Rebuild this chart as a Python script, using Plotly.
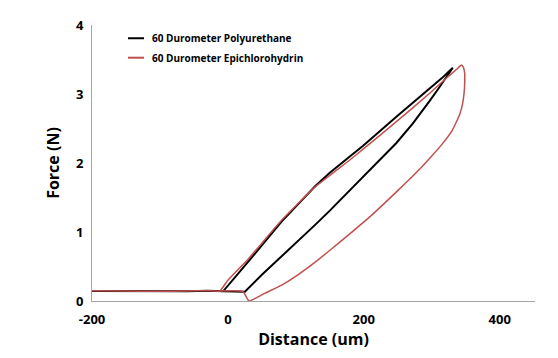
import plotly.graph_objects as go

# ---- data ----
series_names = ["60 Durometer Polyurethane", "60 Durometer Epichlorohydrin"]

pu_distance = [-200, -150, -100, -60, -30, -7,
               30, 79, 128, 150, 179, 199, 248, 297, 315, 331,
               329, 310, 297, 272, 248, 199, 179, 150, 128, 103, 79, 50, 25,
               -7]
pu_force = [0.145, 0.14, 0.135, 0.14, 0.15, 0.14,
            0.57, 1.15, 1.66, 1.86, 2.09, 2.25, 2.67, 3.08, 3.23, 3.38,
            3.35, 3.08, 2.90, 2.57, 2.29, 1.80, 1.59, 1.31, 1.10, 0.87, 0.64, 0.38, 0.135,
            0.14]

ep_distance = [-200, -150, -100, -60, -30, -12,
               0, 30, 79, 128, 179, 199, 248, 297, 325, 338, 343.6,
               346.5, 348.5, 348.5, 347.5, 345, 341, 336, 330, 315, 300, 287, 270, 250, 233, 210, 179, 152,
               128, 103, 79, 54, 31,
               22, -12]
ep_force = [0.15, 0.145, 0.14, 0.145, 0.15, 0.145,
            0.30, 0.61, 1.17, 1.65, 2.04, 2.20, 2.60, 3.01, 3.26, 3.37, 3.42,
            3.39, 3.30, 3.16, 3.00, 2.84, 2.70, 2.59, 2.47, 2.27, 2.10, 1.96, 1.79, 1.60, 1.44, 1.23, 0.97, 0.75,
            0.56, 0.38, 0.23, 0.11, 0.0,
            0.14, 0.145]

x_ticks = [-200, 0, 200, 400]
x_tick_labels = ["-200", "0", "200", "400"]
y_ticks = [0, 1, 2, 3, 4]
y_tick_labels = ["0", "1", "2", "3", "4"]

colors = ["#000000", "#c0504d"]
widths = [2, 1.5]

fig = go.Figure()
fig.add_trace(go.Scatter(x=pu_distance, y=pu_force, mode="lines", name=series_names[0],
                         line=dict(color=colors[0], width=widths[0])))
fig.add_trace(go.Scatter(x=ep_distance, y=ep_force, mode="lines", name=series_names[1],
                         line=dict(color=colors[1], width=widths[1], shape="spline", smoothing=0.4)))

font_family = "Open Sans"
axis_col = "#a6a6a6"

fig.update_layout(
    width=558, height=358,
    margin=dict(l=92, r=23, t=25, b=57),
    paper_bgcolor="white", plot_bgcolor="white",
    showlegend=False,
    font=dict(family=font_family, color="black"),
    xaxis=dict(range=[-200, 452], tickvals=x_ticks, ticktext=x_tick_labels, ticks="",
               showgrid=False, zeroline=False,
               showline=True, linecolor=axis_col, linewidth=1, ticklabelstandoff=6,
               tickfont=dict(family=font_family, size=13, weight="bold", color="black"),
               title=dict(text="Distance (um)", standoff=5,
                          font=dict(family=font_family, size=16, weight="bold", color="black"))),
    yaxis=dict(range=[0, 4], tickvals=y_ticks, ticktext=y_tick_labels, ticks="",
               showgrid=False, zeroline=False,
               showline=True, linecolor=axis_col, linewidth=1, ticklabelstandoff=5,
               tickfont=dict(family=font_family, size=13, weight="bold", color="black"),
               title=dict(text="Force (N)", standoff=12,
                          font=dict(family=font_family, size=16, weight="bold", color="black"))),
)

# manual legend (key lines + labels)
leg_y = [0.952, 0.8815]
for i in range(2):
    fig.add_shape(type="line", xref="paper", yref="paper",
                  x0=0.0813, x1=0.1174, y0=leg_y[i], y1=leg_y[i],
                  line=dict(color=colors[i], width=2))
    fig.add_annotation(xref="paper", yref="paper", x=0.131, y=leg_y[i],
                       xanchor="left", yanchor="middle", showarrow=False,
                       text=series_names[i],
                       font=dict(family=font_family, size=10, weight="bold", color="black"))

fig.write_html("out.html", config={"displayModeBar": False},
               post_script="document.body.style.margin='0px';")
